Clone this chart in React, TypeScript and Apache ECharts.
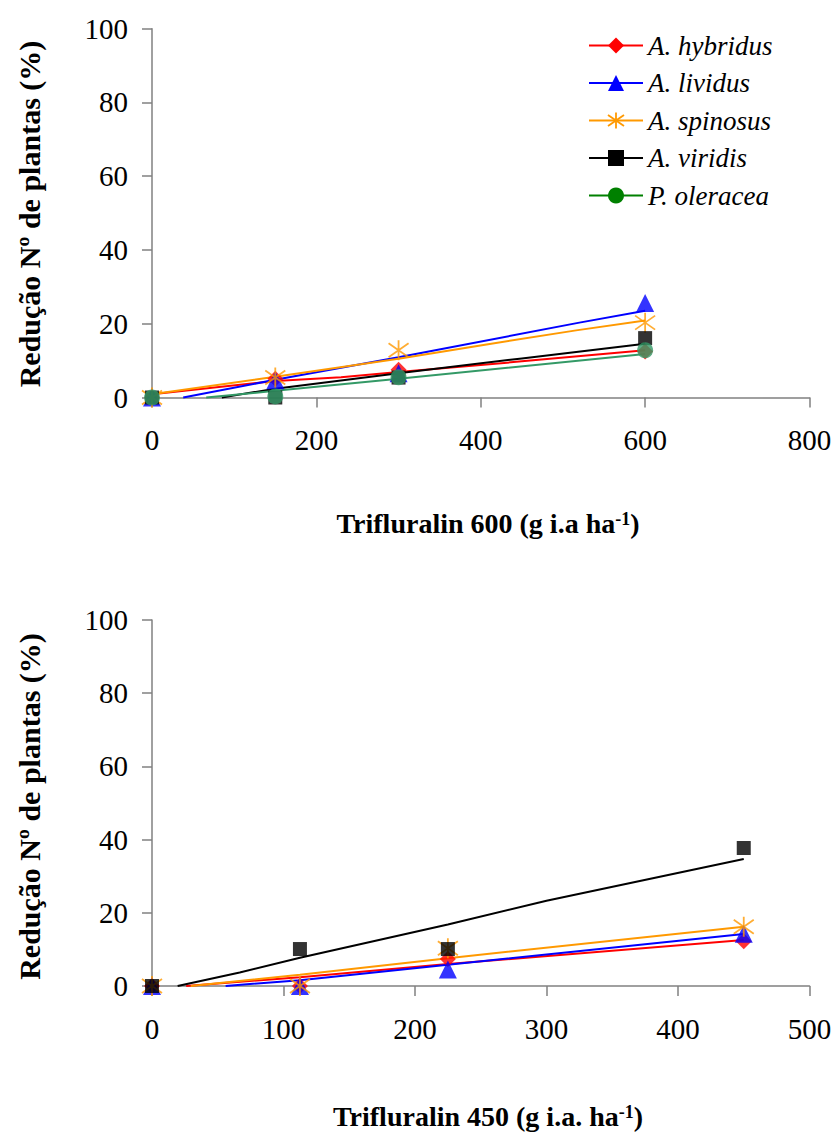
import React, { useEffect, useRef } from "react";
import * as echarts from "echarts";

// ---------- data ----------
const SPECIES = ["A. hybridus", "A. lividus", "A. spinosus", "A. viridis", "P. oleracea"];
const COLORS = ["#FF0000", "#0000FF", "#FF9900", "#000000", "#339966"];
const LEGEND_COLORS = ["#FF0000", "#0000FF", "#FF9900", "#000000", "#008000"];

// Panel 1: Trifluralin 600
const DOSES_600 = [0, 150, 300, 600];
const OBS_600_HYBRIDUS = [0, 5.1, 7.5, 12.5];
const OBS_600_LIVIDUS = [0, 4.7, 6.6, 25.6];
const OBS_600_SPINOSUS = [0, 5.4, 12.8, 20.3];
const OBS_600_VIRIDIS = [0, 0, 5.4, 16.1];
const OBS_600_OLERACEA = [0, 0.3, 5.5, 12.8];

const FIT_600_HYBRIDUS = [[0, 0.9], [150, 4.5], [230, 5.5], [300, 6.9], [450, 9.8], [600, 12.8]];
const FIT_600_LIVIDUS = [[38, 0], [150, 4.8], [300, 10.9], [520, 20.3], [600, 23.5]];
const FIT_600_SPINOSUS = [[0, 0.9], [150, 5.6], [300, 10.5], [407, 14.4], [516, 18.2], [600, 20.9]];
const FIT_600_VIRIDIS = [[85, 0], [150, 2.4], [300, 6.6], [450, 10.6], [600, 14.6]];
const FIT_600_OLERACEA = [[66, 0], [150, 1.8], [300, 5.1], [600, 11.8]];

// Panel 2: Trifluralin 450
const DOSES_450 = [0, 112.5, 225, 450];
const OBS_450_HYBRIDUS = [0, 0, 7.4, 12.2];
const OBS_450_LIVIDUS = [0, 0, 4.5, 14.3];
const OBS_450_SPINOSUS = [0, 0, 10.3, 16.2];
const OBS_450_VIRIDIS = [0, 10.1, 10.1, 37.7];

const FIT_450_HYBRIDUS = [[26, 0], [112.5, 2.4], [225, 6.0], [450, 12.6]];
const FIT_450_LIVIDUS = [[56, 0], [112.5, 1.6], [225, 5.8], [450, 14.2]];
const FIT_450_SPINOSUS = [[29.5, 0], [112.5, 3.1], [225, 7.6], [450, 16.2]];
const FIT_450_VIRIDIS = [[19.5, 0], [66.7, 3.7], [112.5, 7.7], [225, 16.8], [300, 23.3], [450, 34.7]];

const X_TICKS_600 = { min: 0, max: 800, interval: 200 };
const X_TICKS_450 = { min: 0, max: 500, interval: 100 };
const Y_TICKS = { min: 0, max: 100, interval: 20 };

const Y_TITLE = "Redução Nº de plantas (%)";
const X_TITLE_600 = ["Trifluralin 600 (g i.a ha", "-1", ")"];
const X_TITLE_450 = ["Trifluralin 450 (g i.a. ha", "-1", ")"];

// ---------- styling ----------
const FONT = "'Liberation Serif', 'Times New Roman', serif";
const ASTERISK = "path://M10 0L10 20M1.5 3L18.5 17M1.5 17L18.5 3";
const SYMBOLS = ["diamond", "triangle", ASTERISK, "rect", "circle"];
const SYMBOL_SIZES = [16, 18, 20, 14, 16];

function zip(xs: number[], ys: number[]) {
  return xs.map((x, i) => [x, ys[i]]);
}

function markerStyle(i: number) {
  if (i === 2) {
    return { color: "rgba(0,0,0,0)", borderColor: COLORS[i], borderWidth: 1.8 };
  }
  return { color: COLORS[i] };
}

function fitSeries(name: string, i: number, data: number[][], axisIndex: number) {
  return {
    type: "line",
    name,
    xAxisIndex: axisIndex,
    yAxisIndex: axisIndex,
    data,
    symbol: SYMBOLS[i],
    showSymbol: false,
    clip: false,
    z: 2,
    itemStyle: { color: COLORS[i] },
    lineStyle: { color: COLORS[i], width: 2 },
    emphasis: { disabled: true },
  };
}

function obsSeries(name: string, i: number, data: number[][], axisIndex: number) {
  return {
    type: "scatter",
    name,
    xAxisIndex: axisIndex,
    yAxisIndex: axisIndex,
    data,
    symbol: SYMBOLS[i],
    symbolSize: SYMBOL_SIZES[i],
    clip: false,
    z: 3,
    itemStyle: markerStyle(i),
    emphasis: { disabled: true },
  };
}

function xAxis(gridIndex: number, ticks: { min: number; max: number; interval: number }) {
  return {
    type: "value",
    gridIndex,
    min: ticks.min,
    max: ticks.max,
    interval: ticks.interval,
    splitLine: { show: false },
    axisLine: { show: true, onZero: false, lineStyle: { color: "#808080", width: 1.5 } },
    axisTick: { show: true, length: 10, lineStyle: { color: "#808080", width: 1.5 } },
    axisLabel: { color: "#000", fontFamily: FONT, fontSize: 29, margin: 28 },
  };
}

function yAxis(gridIndex: number) {
  return {
    type: "value",
    gridIndex,
    min: Y_TICKS.min,
    max: Y_TICKS.max,
    interval: Y_TICKS.interval,
    splitLine: { show: false },
    axisLine: { show: true, onZero: false, lineStyle: { color: "#808080", width: 1.5 } },
    axisTick: { show: true, length: 10, lineStyle: { color: "#808080", width: 1.5 } },
    axisLabel: { color: "#000", fontFamily: FONT, fontSize: 29, margin: 24 },
  };
}

function xTitle(parts: string[], y: number) {
  return {
    type: "text",
    x: 488,
    y,
    style: {
      text: `{m|${parts[0]}}{s|${parts[1]}}{m|${parts[2]}}`,
      align: "center",
      verticalAlign: "middle",
      rich: {
        m: { fontFamily: FONT, fontWeight: "bold", fontSize: 28, lineHeight: 28, fill: "#000", verticalAlign: "bottom" },
        s: { fontFamily: FONT, fontWeight: "bold", fontSize: 18, lineHeight: 18, fill: "#000", verticalAlign: "top" },
      },
    },
  };
}

function yTitle(y: number) {
  return {
    type: "text",
    x: 29.5,
    y,
    rotation: Math.PI / 2,
    style: {
      text: Y_TITLE,
      fontFamily: FONT,
      fontWeight: "bold",
      fontSize: 30,
      fill: "#000",
      align: "center",
      verticalAlign: "middle",
    },
  };
}

export default function App() {
  const ref = useRef<HTMLDivElement>(null);

  useEffect(() => {
    if (!ref.current) return;
    const chart = echarts.init(ref.current, null, { renderer: "svg" });

    const fits600 = [FIT_600_HYBRIDUS, FIT_600_LIVIDUS, FIT_600_SPINOSUS, FIT_600_VIRIDIS, FIT_600_OLERACEA];
    const obs600 = [OBS_600_HYBRIDUS, OBS_600_LIVIDUS, OBS_600_SPINOSUS, OBS_600_VIRIDIS, OBS_600_OLERACEA];
    const fits450 = [FIT_450_HYBRIDUS, FIT_450_LIVIDUS, FIT_450_SPINOSUS, FIT_450_VIRIDIS];
    const obs450 = [OBS_450_HYBRIDUS, OBS_450_LIVIDUS, OBS_450_SPINOSUS, OBS_450_VIRIDIS];

    const series: any[] = [];
    SPECIES.forEach((name, i) => series.push(fitSeries(name, i, fits600[i], 0)));
    fits450.forEach((d, i) => series.push(fitSeries(SPECIES[i], i, d, 1)));
    SPECIES.forEach((name, i) => series.push(obsSeries(name, i, zip(DOSES_600, obs600[i]), 0)));
    obs450.forEach((d, i) => series.push(obsSeries(SPECIES[i], i, zip(DOSES_450, d), 1)));

    chart.setOption({
      animation: false,
      backgroundColor: "#fff",
      grid: [
        { left: 152, top: 28.7, width: 657.5, height: 368.8 },
        { left: 152, top: 620, width: 657.5, height: 366 },
      ],
      xAxis: [xAxis(0, X_TICKS_600), xAxis(1, X_TICKS_450)],
      yAxis: [yAxis(0), yAxis(1)],
      legend: {
        orient: "vertical",
        left: 583,
        top: 27,
        itemWidth: 54,
        itemHeight: 20,
        itemGap: 10.5,
        selectedMode: false,
        textStyle: { fontFamily: FONT, fontStyle: "italic", fontSize: 27, lineHeight: 27, color: "#000" },
        data: SPECIES.map((name, i) => ({
          name,
          itemStyle:
            i === 2
              ? { color: "rgba(0,0,0,0)", borderColor: LEGEND_COLORS[i], borderWidth: 1.8 }
              : { color: LEGEND_COLORS[i], borderWidth: 0 },
          lineStyle: { color: LEGEND_COLORS[i], width: 2 },
        })),
      },
      graphic: [
        yTitle(214),
        yTitle(806.5),
        xTitle(X_TITLE_600, 523.5),
        xTitle(X_TITLE_450, 1116.5),
      ],
      series,
    });

    return () => chart.dispose();
  }, []);

  return (
    <div
      ref={ref}
      style={{ position: "absolute", left: 0, top: 0, width: 837, height: 1133, background: "#fff" }}
    />
  );
}
